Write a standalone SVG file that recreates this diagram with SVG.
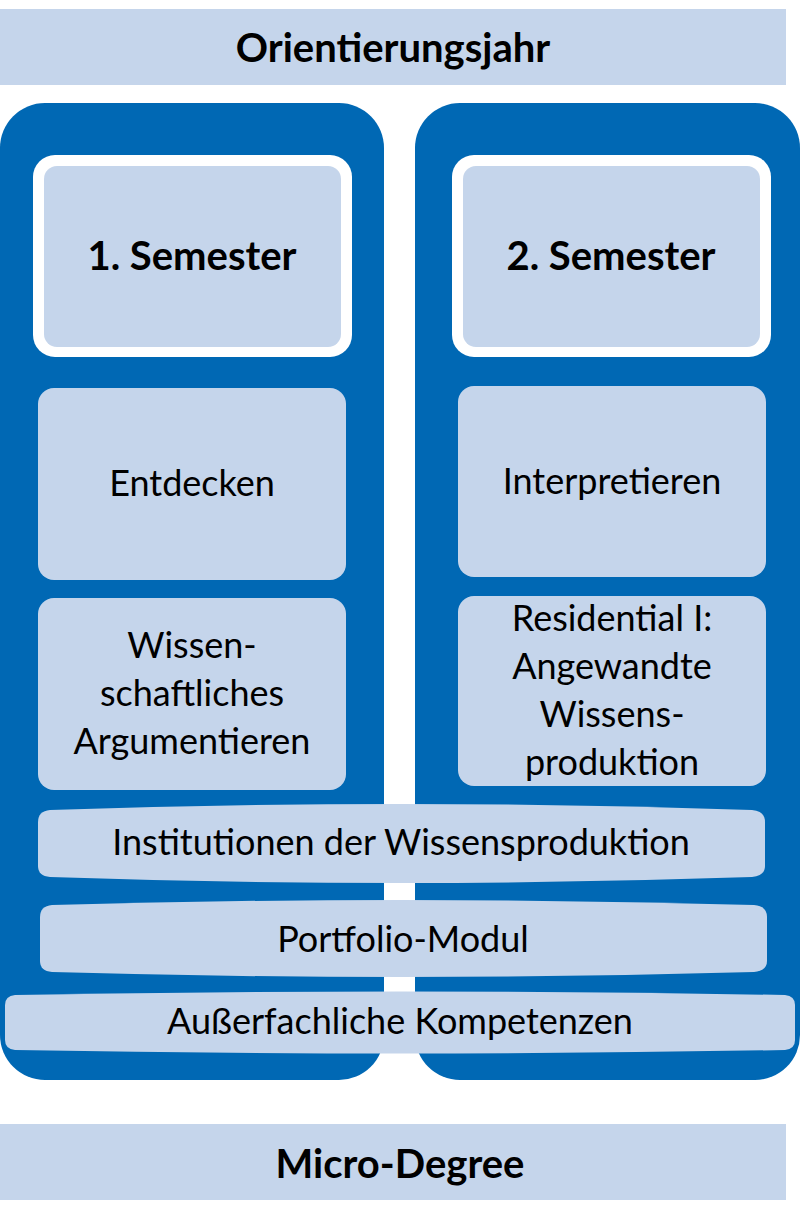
<svg xmlns="http://www.w3.org/2000/svg" width="800" height="1224" viewBox="0 0 800 1224">
<style>
.bar{fill:#c5d5eb}
.col{fill:#0068b4}
.box{fill:#c5d5eb}
text{font-family:Lato,"Open Sans",sans-serif;font-size:36px;fill:#000;text-anchor:middle}
.b{font-weight:bold;font-size:40px}
</style>
<rect width="800" height="1224" fill="#fff"/>
<g id="top"><rect class="bar" x="0" y="9" width="786" height="76"/><text class="b" x="393" y="62">Orientierungsjahr</text></g>
<g id="col1"><rect class="col" x="0" y="103" width="384" height="977" rx="45"/></g>
<g id="col2"><rect class="col" x="415" y="103" width="385" height="977" rx="45"/></g>
<g id="sem1"><rect x="33" y="155" width="319" height="202" rx="22" fill="#fff"/><rect class="box" x="44" y="166" width="297" height="181" rx="13"/><text class="b" x="192" y="270">1. Semester</text></g>
<g id="sem2"><rect x="452" y="155" width="319" height="202" rx="22" fill="#fff"/><rect class="box" x="463" y="166" width="297" height="181" rx="13"/><text class="b" x="611" y="270">2. Semester</text></g>
<g id="entdecken"><rect class="box" x="38" y="388" width="308" height="192" rx="16"/><text x="192" y="496">Entdecken</text></g>
<g id="interpretieren"><rect class="box" x="458" y="386" width="308" height="191" rx="16"/><text x="612" y="494">Interpretieren</text></g>
<g id="wissen"><rect class="box" x="38" y="598" width="308" height="192" rx="16"/><text x="192" y="658">Wissen-</text><text x="192" y="706">schaftliches</text><text x="192" y="754">Argumentieren</text></g>
<g id="residential"><rect class="box" x="458" y="596" width="308" height="190" rx="16"/><text x="612" y="631">Residential I:</text><text x="612" y="679">Angewandte</text><text x="612" y="727">Wissens-</text><text x="612" y="775">produktion</text></g>
<g id="institutionen"><path class="box" d="M50 810 Q400 798 752 810 Q765 811 765 822 L765 866 Q765 876 752 877 Q400 889 50 877 Q38 876 38 866 L38 822 Q38 811 50 810Z"/><text x="401" y="855">Institutionen der Wissensproduktion</text></g>
<g id="portfolio"><path class="box" d="M52 905 Q400 895 754 905 Q767 906 767 917 L767 961 Q767 971 754 972 Q400 982 52 972 Q40 971 40 961 L40 917 Q40 906 52 905Z"/><text x="403" y="952">Portfolio-Modul</text></g>
<g id="ausser"><path class="box" d="M15 995 Q400 988 785 995 Q795 996 795 1005 L795 1040 Q795 1049 785 1050 Q400 1057 15 1050 Q5 1049 5 1040 L5 1005 Q5 996 15 995Z"/><text x="400" y="1034">Außerfachliche Kompetenzen</text></g>
<g id="bottom"><rect class="bar" x="0" y="1124" width="786" height="76"/><text class="b" x="400" y="1178">Micro-Degree</text></g>
<g id="connectors"/>
</svg>
